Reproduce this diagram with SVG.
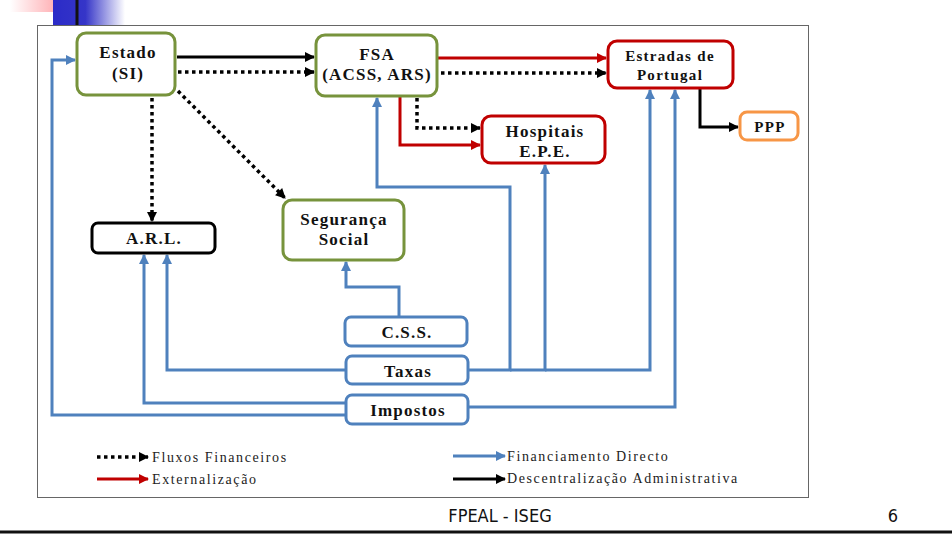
<svg xmlns="http://www.w3.org/2000/svg" width="952" height="540" viewBox="0 0 952 540">
<defs>
<linearGradient id="gBlue" x1="0" x2="1" y1="0" y2="0"><stop offset="0" stop-color="#2b2bc8"/><stop offset="0.45" stop-color="#3535c8"/><stop offset="1" stop-color="#ffffff"/></linearGradient>
<linearGradient id="gPink" x1="0" x2="1" y1="0" y2="0"><stop offset="0" stop-color="#ffffff"/><stop offset="1" stop-color="#ff9aa0"/></linearGradient>
<linearGradient id="gLine" x1="0" x2="1" y1="0" y2="0"><stop offset="0" stop-color="#222"/><stop offset="0.6" stop-color="#888"/><stop offset="1" stop-color="#fff"/></linearGradient>
<marker id="aK" viewBox="0 0 10 10" refX="9" refY="5" markerWidth="11" markerHeight="10" markerUnits="userSpaceOnUse" orient="auto"><path d="M0,0 L10,5 L0,10 z" fill="#000"/></marker>
<marker id="aR" viewBox="0 0 10 10" refX="9" refY="5" markerWidth="11" markerHeight="10" markerUnits="userSpaceOnUse" orient="auto"><path d="M0,0 L10,5 L0,10 z" fill="#c00000"/></marker>
<marker id="aB" viewBox="0 0 10 10" refX="9" refY="5" markerWidth="11" markerHeight="10" markerUnits="userSpaceOnUse" orient="auto"><path d="M0,0 L10,5 L0,10 z" fill="#4f81bd"/></marker>
</defs>
<style>
.n{fill:#fff;stroke-width:3}
.g{stroke:#77933c}.r{stroke:#c00000}.b{stroke:#4f81bd}.k{stroke:#000}.o{stroke:#f79646}
.t{font-family:"Liberation Serif","Times New Roman",serif;font-weight:bold;font-size:17px;letter-spacing:1.2px;fill:#111;text-anchor:middle}
.s{font-size:15px;letter-spacing:1.3px}
.l{fill:none;stroke-width:3}
.dk{stroke:#000;stroke-dasharray:3.5 3.5;stroke-width:3.5;marker-end:url(#aK)}
.sk{stroke:#000;marker-end:url(#aK)}
.sr{stroke:#c00000;marker-end:url(#aR)}
.sb{stroke:#4f81bd;marker-end:url(#aB)}
.lg{font-family:"Liberation Serif","Times New Roman",serif;font-size:14px;fill:#222;letter-spacing:1.6px}
.ft{font-family:"DejaVu Sans Condensed","Liberation Sans",sans-serif;font-size:18px;fill:#111}
</style>
<rect width="952" height="540" fill="#fff"/>
<!-- slide decoration -->
<rect x="10" y="0" width="58" height="12" fill="url(#gPink)"/>
<rect x="53" y="0" width="72" height="25" fill="url(#gBlue)"/>
<line x1="44" y1="5" x2="940" y2="5" stroke="url(#gLine)" stroke-width="3"/>
<line x1="77" y1="0" x2="77" y2="25" stroke="#111" stroke-width="3"/>
<!-- picture frame -->
<rect x="37.5" y="25.5" width="771" height="472" fill="#fff" stroke="#666" stroke-width="1"/>
<!-- connectors -->
<g id="connectors">
<line class="l sk" x1="177" y1="57" x2="314" y2="57"/>
<line class="l dk" x1="178" y1="72" x2="314" y2="72"/>
<line class="l sr" x1="438" y1="58" x2="606" y2="58"/>
<line class="l dk" x1="441" y1="73" x2="606" y2="73"/>
<polyline class="l sk" points="700,89 700,127 738,127"/>
<polyline class="l sr" points="400,97 400,145 480,145"/>
<polyline class="l dk" points="417,98 417,128 480,128"/>
<line class="l dk" x1="152" y1="98" x2="152" y2="221"/>
<line class="l dk" x1="178" y1="91" x2="285" y2="198"/>
<polyline class="l sb" points="468,370 510,370 510,187 377,187 377,98"/>
<polyline class="l sb" points="510,370 545,370 545,165"/>
<polyline class="l sb" points="545,370 650,370 650,90"/>
<polyline class="l sb" points="468,407 675,407 675,90"/>
<polyline class="l sb" points="346,370 167,370 167,255"/>
<polyline class="l sb" points="346,403 144,403 144,255"/>
<polyline class="l sb" points="346,415 52,415 52,60 75,60"/>
<polyline class="l sb" points="399,317 399,287 346,287 346,262"/>
</g>
<!-- nodes -->
<g id="estado"><rect class="n g" x="77" y="33" width="98" height="62" rx="9"/><text class="t" x="128" y="58">Estado</text><text class="t" x="128" y="79">(SI)</text></g>
<g id="fsa"><rect class="n g" x="316" y="35" width="121" height="61" rx="9"/><text class="t" x="377" y="60">FSA</text><text class="t" x="377" y="80">(ACSS, ARS)</text></g>
<g id="estradas"><rect class="n r" x="608" y="41" width="125" height="47" rx="9"/><text class="t s" x="670" y="61">Estradas de</text><text class="t s" x="670" y="80">Portugal</text></g>
<g id="ppp"><rect class="n o" x="740" y="112" width="58" height="28" rx="7"/><text class="t s" x="770" y="132">PPP</text></g>
<g id="hospitais"><rect class="n r" x="482" y="116" width="123" height="47" rx="9"/><text class="t" x="545" y="137">Hospitais</text><text class="t" x="545" y="157">E.P.E.</text></g>
<g id="seguranca"><rect class="n g" x="283" y="200" width="121" height="60" rx="9"/><text class="t" x="344" y="225">Segurança</text><text class="t" x="344" y="245">Social</text></g>
<g id="arl"><rect class="n k" x="92" y="223" width="123" height="30" rx="6"/><text class="t" x="154" y="244">A.R.L.</text></g>
<g id="css"><rect class="n b" x="345" y="317" width="122" height="29" rx="6"/><text class="t" x="407" y="338">C.S.S.</text></g>
<g id="taxas"><rect class="n b" x="346" y="356" width="122" height="28" rx="6"/><text class="t" x="408" y="377">Taxas</text></g>
<g id="impostos"><rect class="n b" x="346" y="395" width="122" height="29" rx="6"/><text class="t" x="408" y="416">Impostos</text></g>
<!-- legend -->
<g id="legend">
<line class="l dk" x1="97" y1="457" x2="148" y2="457"/>
<text class="lg" x="152" y="462">Fluxos Financeiros</text>
<line class="l sr" x1="97" y1="479" x2="148" y2="479"/>
<text class="lg" x="152" y="484">Externalização</text>
<line class="l sb" x1="453" y1="456" x2="505" y2="456"/>
<text class="lg" x="507" y="461">Financiamento Directo</text>
<line class="l sk" x1="453" y1="479" x2="505" y2="479"/>
<text class="lg" x="507" y="483">Descentralização Administrativa</text>
</g>
<!-- footer -->
<text class="ft" x="500" y="522" text-anchor="middle">FPEAL - ISEG</text>
<text class="ft" x="893" y="522" text-anchor="middle">6</text>
<line x1="0" y1="532" x2="952" y2="532" stroke="#111" stroke-width="3"/>
</svg>
